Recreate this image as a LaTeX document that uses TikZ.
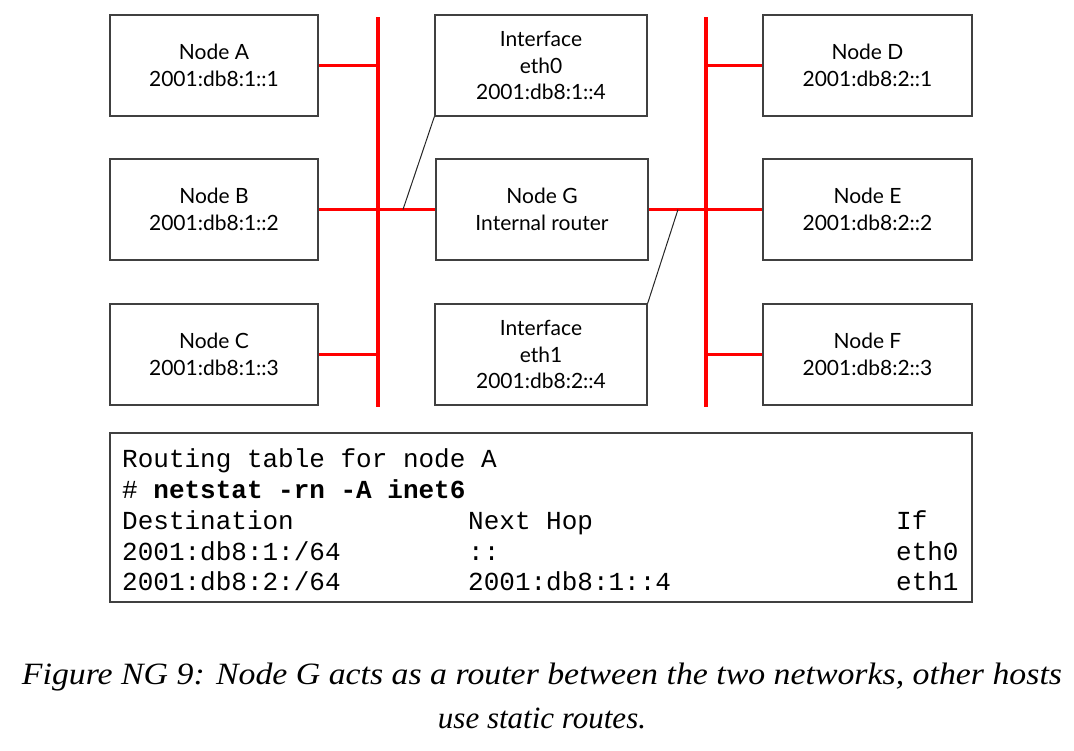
\documentclass[tikz,border=0pt]{standalone}
\usepackage{fontspec}
\setmainfont{Liberation Serif}
\setsansfont{Lato}
\setmonofont{Liberation Mono}
\newfontfamily\boxfont{Lato}
\begin{document}
\begin{tikzpicture}[x=1pt,y=-1pt,
  hostbox/.style={draw=black!75,line width=1.3pt,minimum width=208pt,minimum height=101pt,
    align=center,inner sep=0pt,font=\boxfont\fontsize{21}{26.5}\selectfont},
  redline/.style={draw=red,line width=2.2pt},
  redbus/.style={draw=red,line width=4.2pt},
  thinline/.style={draw=black!85,line width=1pt},
  tablebox/.style={draw=black!75,line width=1.3pt,minimum width=862pt,minimum height=169pt,inner sep=0pt},
  captext/.style={font=\itshape\fontsize{31}{41}\selectfont,inner sep=0pt}]
\useasboundingbox (0,0) rectangle (1074,750);
\fill[white] (0,0) rectangle (1074,750);
% host boxes
\node[hostbox] (A) at (214,65.5) {Node A\\2001:db8:1::1};
\node[hostbox] (B) at (214,209.5) {Node B\\2001:db8:1::2};
\node[hostbox] (C) at (214,354.5) {Node C\\2001:db8:1::3};
\node[hostbox,minimum width=212pt] (eth0) at (541,65.5) {Interface\\eth0\\2001:db8:1::4};
\node[hostbox,minimum width=212pt] (G) at (542,209.5) {Node G\\Internal router};
\node[hostbox,minimum width=212pt] (eth1) at (541,354.5) {Interface\\eth1\\2001:db8:2::4};
\node[hostbox,minimum width=209pt] (D) at (867.5,65.5) {Node D\\2001:db8:2::1};
\node[hostbox,minimum width=209pt] (E) at (867.5,209.5) {Node E\\2001:db8:2::2};
\node[hostbox,minimum width=209pt] (F) at (867.5,354.5) {Node F\\2001:db8:2::3};
% buses
\coordinate (b1top) at (378,17);
\coordinate (b1bot) at (378,407);
\coordinate (b2top) at (706,17);
\coordinate (b2bot) at (706,407);
\draw[redline] (A.east) -- (A.east -| b1top);
\draw[redline] (B.east) -- (G.west);
\draw[redline] (C.east) -- (C.east -| b1top);
\draw[redline] (G.east) -- (E.west);
\draw[redline] (D.west) -- (D.west -| b2top);
\draw[redline] (F.west) -- (F.west -| b2top);
\draw[redbus] (b1top) -- (b1bot);
\draw[redbus] (b2top) -- (b2bot);
% interface pointers
\coordinate (j1) at (403,209.5);
\coordinate (j2) at (678,209.5);
\draw[thinline] (j1) -- (eth0.south west);
\draw[thinline] (j2) -- (eth1.north east);
% routing table
\node[tablebox] (tbl) at (541,517.5) {};
\node[anchor=north west,inner sep=0pt,font=\ttfamily\fontsize{26}{30.8}\selectfont] (tbltext) at (122,446)
{\begin{tabular}{@{}p{346pt}@{}p{428pt}@{}l@{}}
\multicolumn{3}{@{}l@{}}{Routing table for node A}\\
\multicolumn{3}{@{}l@{}}{\# \textbf{netstat -rn -A inet6}}\\
Destination & Next Hop & If\\
2001:db8:1:/64 & :: & eth0\\
2001:db8:2:/64 & 2001:db8:1::4 & eth1
\end{tabular}};
% caption
\node[captext] (cap1) at (542,677) {\resizebox{1040pt}{\height}{Figure NG 9: Node G acts as a router between the two networks, other hosts}};
\node[captext] (cap2) at (542,718) {use static routes.};
\end{tikzpicture}
\end{document}
